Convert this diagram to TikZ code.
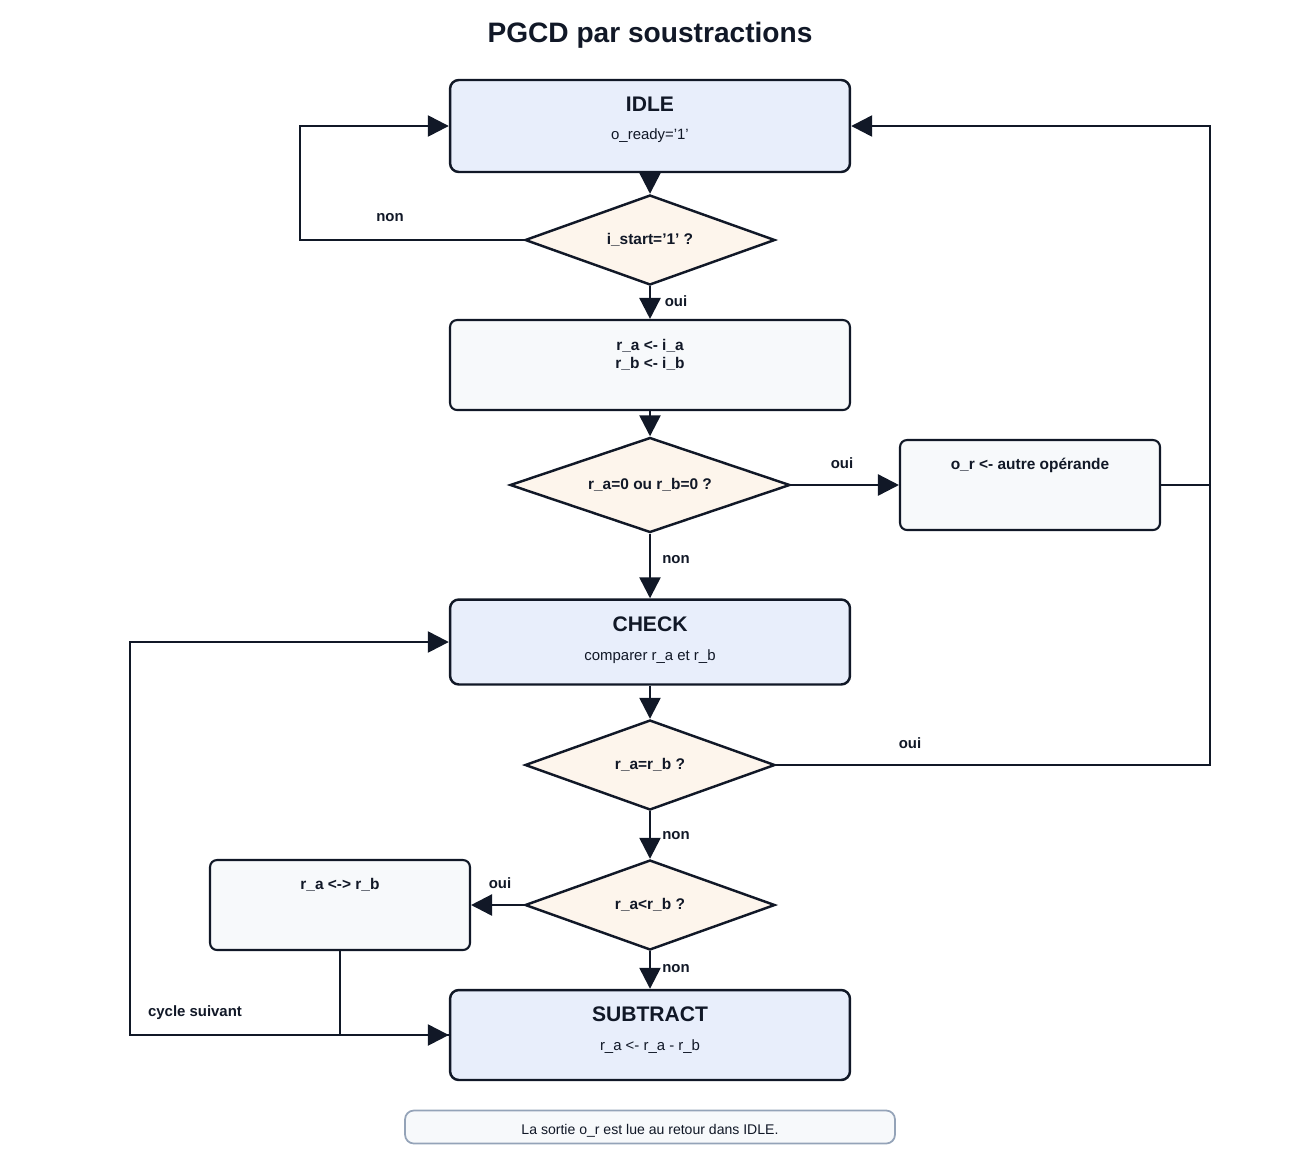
\documentclass[tikz,border=0pt]{standalone}
\usepackage{fontspec}
\setmainfont{Liberation Sans}
\usetikzlibrary{shapes.geometric,arrows.meta}
\definecolor{ink}{HTML}{111827}
\definecolor{stateFill}{HTML}{E8EEFB}
\definecolor{testFill}{HTML}{FDF5EC}
\definecolor{actFill}{HTML}{F7F9FB}
\definecolor{noteLine}{HTML}{94A3B8}
\begin{document}
\begin{tikzpicture}[x=0.02cm, y=-0.02cm,
  stateStyle/.style={rectangle, rounded corners=5pt, draw=ink, line width=1.4pt, fill=stateFill, minimum width=8cm, minimum height=1.84cm},
  actStyle/.style={rectangle, rounded corners=4pt, draw=ink, line width=1.2pt, fill=actFill},
  testStyle/.style={diamond, draw=ink, line width=1.4pt, fill=testFill, inner sep=0pt, minimum width=5cm, minimum height=1.8cm},
  titleStyle/.style={font=\bfseries\fontsize{12}{14}\selectfont, text=ink},
  subStyle/.style={font=\fontsize{8.5}{10}\selectfont, text=ink},
  testText/.style={font=\bfseries\fontsize{8.8}{10.5}\selectfont, text=ink},
  lblStyle/.style={font=\bfseries\fontsize{8.5}{10}\selectfont, text=ink},
  wire/.style={draw=ink, line width=1.4pt},
  arr/.style={wire, -{Triangle[length=0.42cm, width=0.42cm]}}]
  \useasboundingbox (0,0) rectangle (1300,1150);
  \node[font=\bfseries\fontsize{16}{19}\selectfont, text=ink] (title) at (650,35) {PGCD par soustractions};

  % etats
  \node[stateStyle] (idle) at (650,126) {};
  \node[titleStyle] (idle_t) at (650,104) {IDLE};
  \node[subStyle] (idle_s) at (650,136) {o\_ready='1'};

  \node[stateStyle, minimum height=1.7cm] (check) at (650,642) {};
  \node[titleStyle] (check_t) at (650,624) {CHECK};
  \node[subStyle] (check_s) at (650,657) {comparer r\_a et r\_b};

  \node[stateStyle, minimum height=1.8cm] (sub) at (650,1035) {};
  \node[titleStyle] (sub_t) at (650,1014) {SUBTRACT};
  \node[subStyle] (sub_s) at (650,1047) {r\_a <- r\_a - r\_b};

  % tests
  \node[testStyle] (start) at (650,240) {};
  \node[testText] (start_t) at (650,240) {i\_start='1' ?};
  \node[testStyle, minimum width=5.6cm, minimum height=1.9cm] (zero) at (650,485) {};
  \node[testText] (zero_t) at (650,485) {r\_a=0 ou r\_b=0 ?};
  \node[testStyle] (eq) at (650,765) {};
  \node[testText] (eq_t) at (650,765) {r\_a=r\_b ?};
  \node[testStyle] (lt) at (650,905) {};
  \node[testText] (lt_t) at (650,905) {r\_a<r\_b ?};

  % actions
  \node[actStyle, minimum width=8cm, minimum height=1.8cm] (load) at (650,365) {};
  \node[testText, align=center] (load_t) at (650,355) {r\_a <- i\_a\\r\_b <- i\_b};
  \node[actStyle, minimum width=5.2cm, minimum height=1.8cm] (other) at (1030,485) {};
  \node[testText] (other_t) at (1030,465) {o\_r <- autre opérande};
  \node[actStyle, minimum width=5.2cm, minimum height=1.8cm] (swap) at (340,905) {};
  \node[testText] (swap_t) at (340,885) {r\_a <-> r\_b};

  \node[rectangle, rounded corners=5pt, draw=noteLine, line width=1pt, fill=actFill, minimum width=9.8cm, minimum height=0.66cm, font=\fontsize{8}{10}\selectfont, text=ink, text depth=0pt, anchor=center] (note) at (650,1127) {\raisebox{-3pt}{La sortie o\_r est lue au retour dans IDLE.}};

  \coordinate (c_idleL) at (300,126);
  \coordinate (c_startL) at (300,240);
  \coordinate (c_right) at (1210,126);
  \coordinate (c_otherR) at (1210,485);
  \coordinate (c_eqR) at (1210,765);
  \coordinate (c_subL) at (130,1035);
  \coordinate (c_checkL) at (130,642);
  \coordinate (c_swapD) at (340,1035);

  % liaisons
  \draw[arr] (idle) -- (start);
  \draw[arr] (start.west) -- (c_startL) -- (c_idleL) -- (idle.west);
  \draw[arr] (start) -- (load);
  \draw[arr] (load) -- (zero);
  \draw[arr] (zero.east) -- (other.west);
  \draw[arr] (other.east) -- (c_otherR) -- (c_right) -- (idle.east);
  \draw[wire] (eq.east) -- (c_eqR) -- (c_otherR);
  \draw[arr] (zero) -- (check);
  \draw[arr] (check) -- (eq);
  \draw[arr] (eq) -- (lt);
  \draw[arr] (lt.west) -- (swap.east);
  \draw[arr] (lt) -- (sub);
  \draw[arr] (swap.south -| c_swapD) -- (c_swapD) -- (sub.west);
  \draw[arr] (sub.west) -- (c_subL) -- (c_checkL) -- (check.west);

  % etiquettes
  \node[lblStyle] (l_non1) at (390,218) {non};
  \node[lblStyle] (l_oui1) at (676,301) {oui};
  \node[lblStyle] (l_oui2) at (842,463) {oui};
  \node[lblStyle] (l_non2) at (676,560) {non};
  \node[lblStyle] (l_oui3) at (910,743) {oui};
  \node[lblStyle] (l_non3) at (676,836) {non};
  \node[lblStyle] (l_oui4) at (500,883) {oui};
  \node[lblStyle] (l_non4) at (676,969) {non};
  \node[lblStyle] (l_cycle) at (195,1013) {cycle suivant};
\end{tikzpicture}
\end{document}
